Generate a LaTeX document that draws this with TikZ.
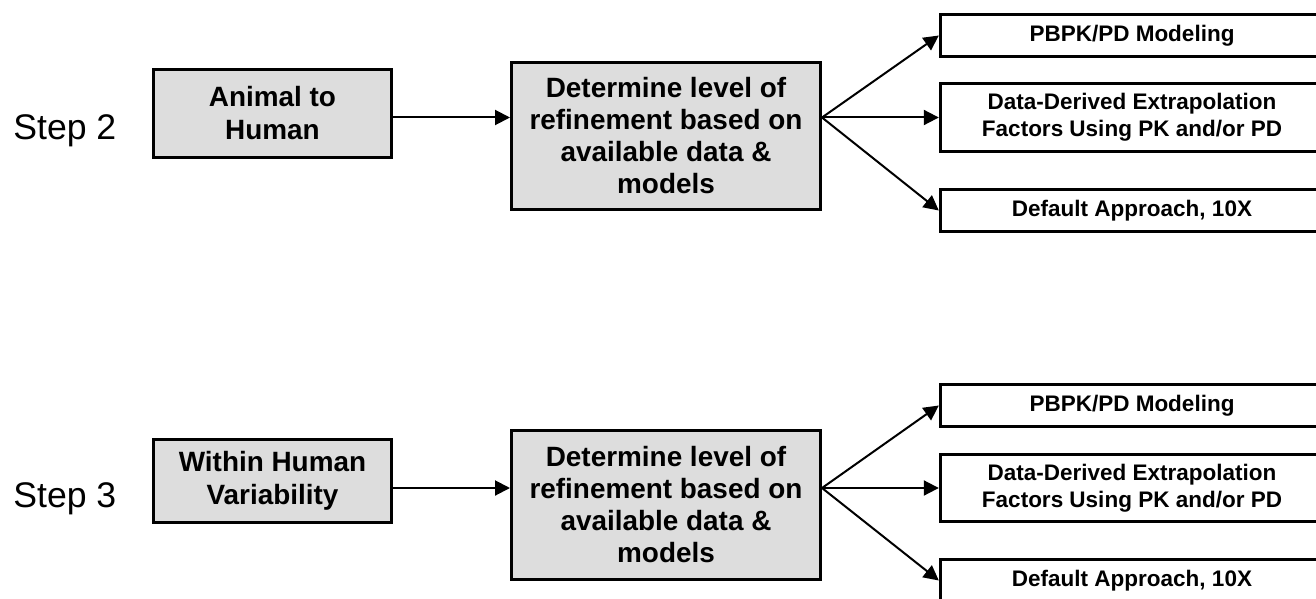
\documentclass[tikz,border=0pt]{standalone}
\usepackage{fontspec}
\setmainfont{Liberation Sans}
\usepackage{xcolor}
\usepackage{tikz}
\usetikzlibrary{arrows.meta,positioning,calc}
\definecolor{boxgray}{RGB}{221,221,221}

\begin{document}
\begin{tikzpicture}[
            x=0.5pt, y=-0.5pt,
            every node/.style={inner sep=0pt},
            stepname/.style={anchor=base west, font=\fontsize{17.8}{20}\selectfont},
            srcbox/.style={draw, line width=1.7pt, fill=boxgray, align=center, minimum width=118.9pt, font=\fontsize{13.95}{16.5}\selectfont\bfseries},
            refbox/.style={draw, line width=1.7pt, fill=boxgray, align=center, minimum width=154.3pt, font=\fontsize{13.95}{16}\selectfont\bfseries},
            optbox/.style={draw, line width=1.7pt, fill=white, align=center, minimum width=191.5pt, font=\fontsize{11.25}{13.3}\selectfont\bfseries},
            arr/.style={-{Triangle[length=7.5pt,width=7.5pt]}, line width=1pt},
        ]
            \clip (0,0) rectangle (1316,599);
            % step 2
            \node[stepname] (s2) at (13,140) {Step 2};
            \node[srcbox, minimum height=43.9pt] (ani) at (272.5,113.5) {Animal to\\Human};
            \node[refbox, minimum height=73.3pt] (ref1) at (666,136) {Determine level of\\refinement based on\\available data \&\\models};
            \node[optbox, minimum height=21pt] (pb1) at (1132,35.5) {PBPK/PD Modeling};
            \node[optbox, minimum height=34pt] (dd1) at (1132,117.5) {Data-Derived Extrapolation\\Factors Using PK and/or PD};
            \node[optbox, minimum height=21pt] (da1) at (1132,210.5) {Default Approach, 10X};
            \draw[arr] (ani.east |- dd1.west) -- (ref1.west |- dd1.west);
            \draw[arr] (ref1.east |- dd1.west) -- (pb1.west);
            \draw[arr] (ref1.east |- dd1.west) -- (dd1.west);
            \draw[arr] (ref1.east |- dd1.west) -- (da1.west);
            % step 3
            \node[stepname] (s3) at (13,507) {Step 3};
            \node[srcbox, minimum height=41.4pt] (hum) at (272.5,481) {Within Human\\Variability};
            \node[refbox, minimum height=74.3pt] (ref2) at (666,505) {Determine level of\\refinement based on\\available data \&\\models};
            \node[optbox, minimum height=21pt] (pb2) at (1132,405.5) {PBPK/PD Modeling};
            \node[optbox, minimum height=33.4pt] (dd2) at (1132,488) {Data-Derived Extrapolation\\Factors Using PK and/or PD};
            \node[optbox, minimum height=21pt] (da2) at (1132,580.5) {Default Approach, 10X};
            \draw[arr] (hum.east |- dd2.west) -- (ref2.west |- dd2.west);
            \draw[arr] (ref2.east |- dd2.west) -- (pb2.west);
            \draw[arr] (ref2.east |- dd2.west) -- (dd2.west);
            \draw[arr] (ref2.east |- dd2.west) -- (da2.west);
        \end{tikzpicture}
\end{document}
